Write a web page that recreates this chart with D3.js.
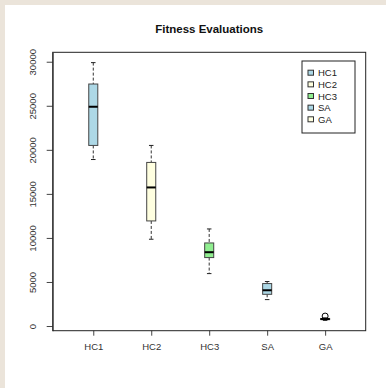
<!DOCTYPE html>
<html>
<head>
<meta charset="utf-8">
<script src="https://cdn.jsdelivr.net/npm/d3@7"></script>
<style>
  html, body { margin: 0; padding: 0; background: #ebe4da; }
  svg { display: block; }
  text { font-family: "Liberation Sans", Arial, sans-serif; }
</style>
</head>
<body>
<svg width="386" height="388"></svg>
<script>
// boxplot stats
var groups = ["HC1", "HC2", "HC3", "SA", "GA"];
var whiskLo = [18900, 9850, 5950, 3000, 640];
var q1 = [20500, 11930, 7770, 3600, 730];
var med = [24890, 15730, 8380, 4060, 790];
var q3 = [27470, 18570, 9430, 4820, 860];
var whiskHi = [29900, 20500, 11020, 5050, 930];
var outliers = [[], [], [], [], [1130]];
var boxColors = ["#add8e6", "#ffffe0", "#90ee90", "#add8e6", "#ffffe0"];
var yTicks = [0, 5000, 10000, 15000, 20000, 25000, 30000];

var svg = d3.select("svg");

// white panel, beige strip left and top
svg.append("rect").attr("x", 5).attr("y", 5).attr("width", 381).attr("height", 383).attr("fill", "#ffffff");

var plot = { left: 52.7, right: 365.7, top: 52.3, bottom: 330.7 };

var lo = d3.min(whiskLo), hi = d3.max(whiskHi);
var pad = (hi - lo) * 0.04;
var y = d3.scaleLinear().domain([lo - pad, hi + pad]).range([plot.bottom, plot.top]);
var x = d3.scaleLinear().domain([0.3, 5.7]).range([plot.left, plot.right]);

var data = groups.map(function (g, i) {
    return { name: g, pos: i + 1, lo: whiskLo[i], q1: q1[i], med: med[i], q3: q3[i], hi: whiskHi[i], out: outliers[i], color: boxColors[i] };
});

var halfW = x(1.078) - x(1);

// title
svg.append("text")
    .attr("x", (plot.left + plot.right) / 2)
    .attr("y", 33)
    .attr("text-anchor", "middle")
    .attr("font-size", "11.5px")
    .attr("font-weight", "bold")
    .attr("fill", "#111")
    .text("Fitness Evaluations");

// y axis
var yAxis = svg.append("g")
    .attr("transform", "translate(" + plot.left + ",0)")
    .call(d3.axisLeft(y).tickValues(yTicks).tickSizeInner(6).tickSizeOuter(0).tickPadding(4).tickFormat(d3.format("d")));
yAxis.select(".domain").attr("stroke", "#444");
yAxis.selectAll(".tick line").attr("stroke", "#444");
yAxis.selectAll(".tick text")
    .attr("transform", "rotate(-90)")
    .attr("x", 0)
    .attr("y", -17)
    .attr("dy", "0")
    .attr("text-anchor", "middle")
    .attr("font-size", "9.5px")
    .attr("fill", "#333");

// x axis
var xAxis = svg.append("g")
    .attr("transform", "translate(0," + plot.bottom + ")")
    .call(d3.axisBottom(x).tickValues([1, 2, 3, 4, 5]).tickSizeInner(5).tickSizeOuter(0).tickPadding(8)
        .tickFormat(function (d) { return groups[d - 1]; }));
xAxis.select(".domain").remove();
xAxis.selectAll(".tick line").attr("stroke", "#444");
xAxis.selectAll(".tick text").attr("font-size", "9.5px").attr("fill", "#333").attr("font-family", "Liberation Sans, Arial, sans-serif");

// plot frame
svg.append("rect")
    .attr("x", plot.left).attr("y", plot.top)
    .attr("width", plot.right - plot.left).attr("height", plot.bottom - plot.top)
    .attr("fill", "none").attr("stroke", "#222").attr("stroke-width", 1);

var boxes = svg.append("g").selectAll("g").data(data).enter().append("g");

// whiskers
boxes.append("line")
    .attr("x1", function (d) { return x(d.pos); }).attr("x2", function (d) { return x(d.pos); })
    .attr("y1", function (d) { return y(d.hi); }).attr("y2", function (d) { return y(d.q3); })
    .attr("stroke", "#333").attr("stroke-dasharray", "3,2");
boxes.append("line")
    .attr("x1", function (d) { return x(d.pos); }).attr("x2", function (d) { return x(d.pos); })
    .attr("y1", function (d) { return y(d.q1); }).attr("y2", function (d) { return y(d.lo); })
    .attr("stroke", "#333").attr("stroke-dasharray", "3,2");

// staples
[["hi"], ["lo"]].forEach(function (k) {
    boxes.append("line")
        .attr("x1", function (d) { return x(d.pos) - halfW / 2; })
        .attr("x2", function (d) { return x(d.pos) + halfW / 2; })
        .attr("y1", function (d) { return y(d[k[0]]); })
        .attr("y2", function (d) { return y(d[k[0]]); })
        .attr("stroke", "#222");
});

// box
boxes.append("rect")
    .attr("x", function (d) { return x(d.pos) - halfW; })
    .attr("y", function (d) { return y(d.q3); })
    .attr("width", halfW * 2)
    .attr("height", function (d) { return y(d.q1) - y(d.q3); })
    .attr("fill", function (d) { return d.color; })
    .attr("stroke", "#444");

// median
boxes.append("line")
    .attr("x1", function (d) { return x(d.pos) - halfW; })
    .attr("x2", function (d) { return x(d.pos) + halfW; })
    .attr("y1", function (d) { return y(d.med); })
    .attr("y2", function (d) { return y(d.med); })
    .attr("stroke", "#000").attr("stroke-width", 2);

// outliers
boxes.selectAll("circle")
    .data(function (d) { return d.out.map(function (v) { return { pos: d.pos, v: v }; }); })
    .enter().append("circle")
    .attr("cx", function (d) { return x(d.pos); })
    .attr("cy", function (d) { return y(d.v); })
    .attr("r", 3)
    .attr("fill", "none").attr("stroke", "#000");

// legend
var legend = svg.append("g").attr("transform", "translate(302,61)");
legend.append("rect").attr("width", 53).attr("height", 72).attr("fill", "#fff").attr("stroke", "#222");
var items = legend.selectAll("g.item").data(groups).enter().append("g")
    .attr("transform", function (d, i) { return "translate(0," + (11.7 + i * 11.65) + ")"; });
items.append("rect")
    .attr("x", 6).attr("y", -2.5).attr("width", 5.5).attr("height", 5)
    .attr("fill", function (d, i) { return boxColors[i]; })
    .attr("stroke", "#333");
items.append("text")
    .attr("x", 16).attr("y", 3.5)
    .attr("font-size", "9.5px").attr("fill", "#222")
    .text(function (d) { return d; });
</script>
</body>
</html>
